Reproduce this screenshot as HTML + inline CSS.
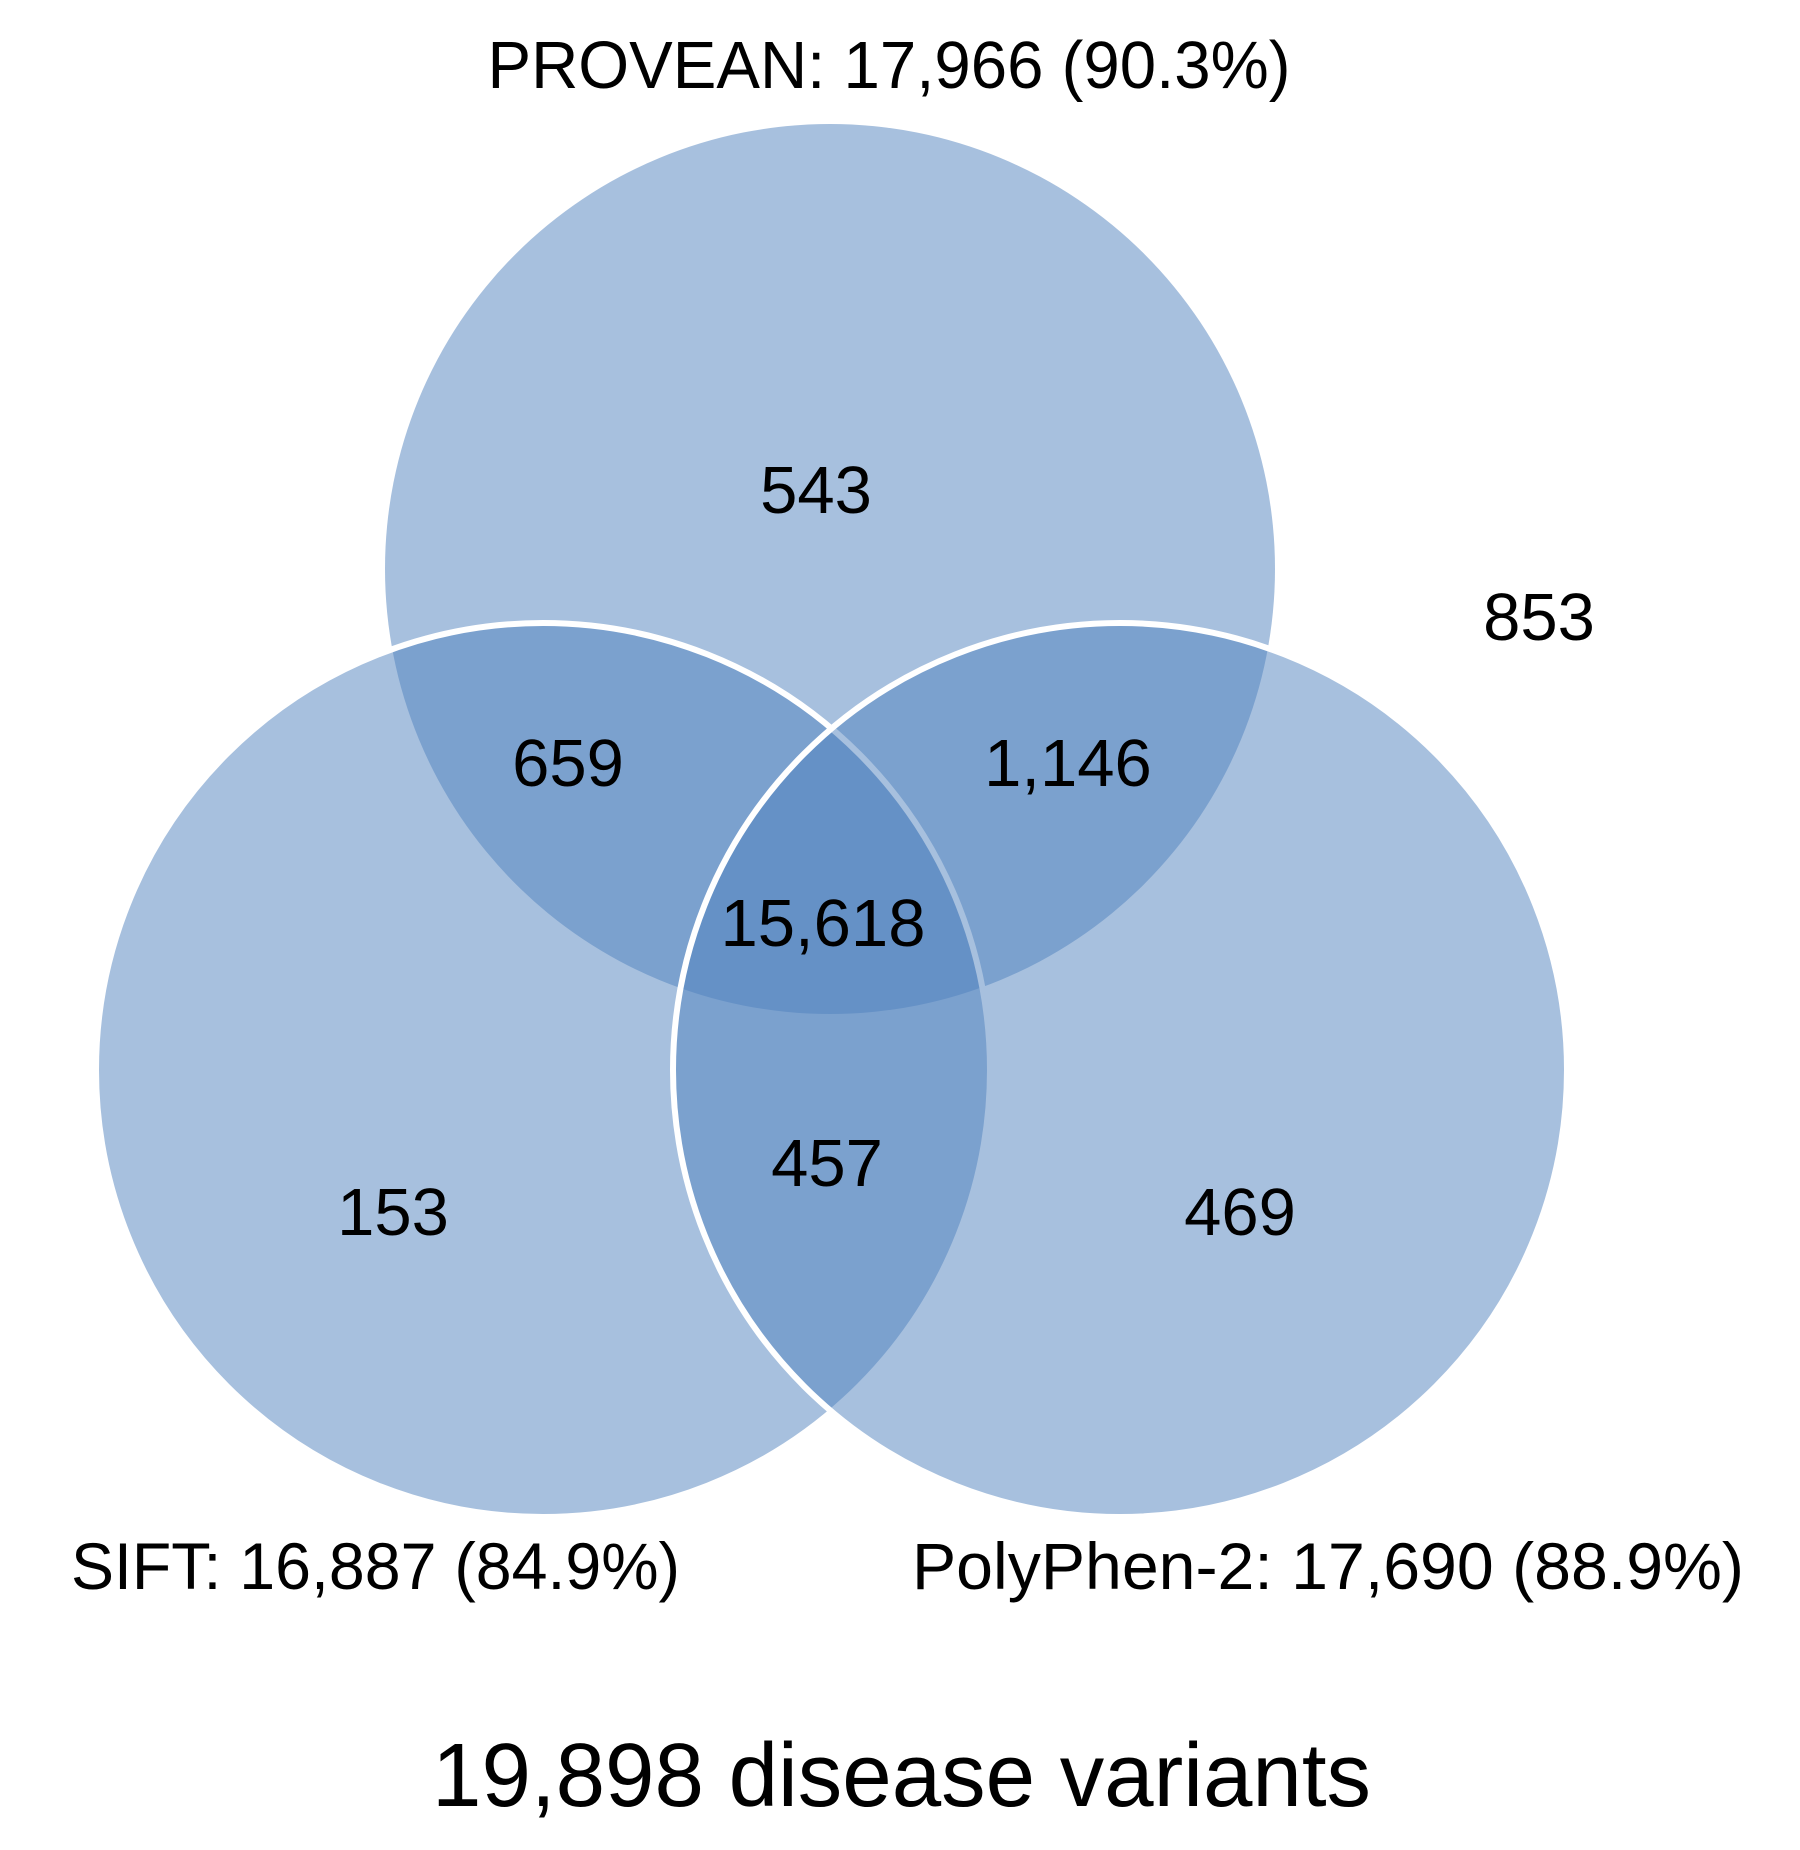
<!DOCTYPE html>
<html><head><meta charset="utf-8"><style>html,body{margin:0;padding:0;background:#fff}svg{display:block}</style></head>
<body>
<svg width="1800" height="1850" viewBox="0 0 1800 1850" xmlns="http://www.w3.org/2000/svg" font-family="'Liberation Sans', sans-serif" fill="#000">
<rect width="1800" height="1850" fill="#fff"/>
<g fill="#4f81bd" fill-opacity="0.5">
<circle cx="830" cy="569" r="445"/>
<circle cx="543" cy="1070" r="447" stroke="#fff" stroke-width="6" stroke-opacity="1"/>
<circle cx="1120" cy="1070" r="447" stroke="#fff" stroke-width="6" stroke-opacity="1"/>
</g>
<g font-size="67" text-anchor="middle">
<text x="889" y="88" textLength="803" lengthAdjust="spacingAndGlyphs">PROVEAN:  17,966 (90.3%)</text>
<text x="816" y="513">543</text>
<text x="1539" y="640">853</text>
<text x="568" y="786">659</text>
<text x="1068" y="786">1,146</text>
<text x="823" y="946">15,618</text>
<text x="827" y="1186">457</text>
<text x="393" y="1235">153</text>
<text x="1240" y="1235">469</text>
</g>
<g font-size="66">
<text x="71" y="1589" textLength="609" lengthAdjust="spacingAndGlyphs">SIFT: 16,887 (84.9%)</text>
<text x="912" y="1589" textLength="832" lengthAdjust="spacingAndGlyphs">PolyPhen-2: 17,690 (88.9%)</text>
</g>
<text x="432" y="1806" font-size="90" textLength="939" lengthAdjust="spacingAndGlyphs">19,898 disease variants</text>
</svg>
</body></html>
